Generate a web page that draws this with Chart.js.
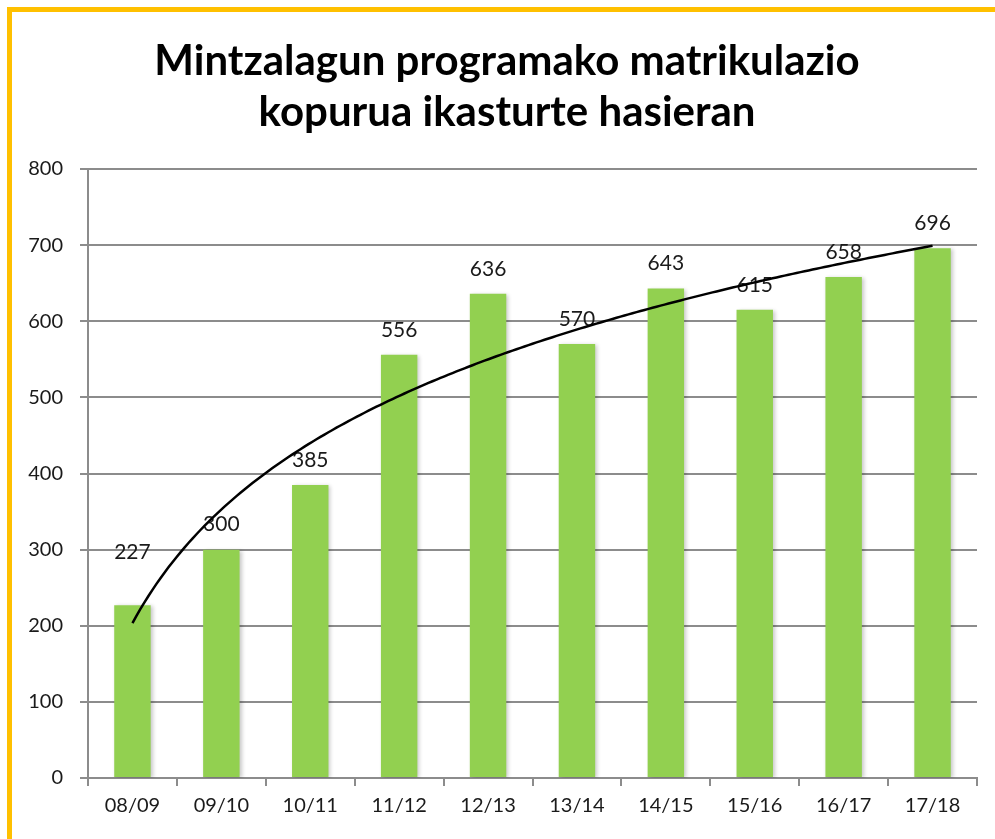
<!DOCTYPE html>
<html>
<head>
<meta charset="utf-8">
<script src="https://cdn.jsdelivr.net/npm/chart.js@4/dist/chart.umd.min.js"></script>
<style>
  html, body { margin: 0; padding: 0; background: #fff; }
  #frame { position: absolute; left: 7px; top: 7px; width: 988px; height: 832px;
           border-left: 5px solid #FFC000; border-top: 5px solid #FFC000; box-sizing: border-box; }
  #wrap { position: absolute; left: 12px; top: 12px; width: 983px; height: 827px; }
</style>
</head>
<body>
<div id="frame"></div>
<div id="wrap"><canvas id="c"></canvas></div>
<script>
const titleLines = ['Mintzalagun programako matrikulazio', 'kopurua ikasturte hasieran'];
const categories = ['08/09', '09/10', '10/11', '11/12', '12/13', '13/14', '14/15', '15/16', '16/17', '17/18'];
const enrolments = [227, 300, 385, 556, 636, 570, 643, 615, 658, 696];
const yTicks = [0, 100, 200, 300, 400, 500, 600, 700, 800];

const FONT = 'Lato, "Open Sans", "DejaVu Sans", sans-serif';
const GRID = '#8c8c8c';

// Logarithmic least-squares trendline (as Excel), y = a + b ln(x), x = 1..n
function logFit(vals) {
  const n = vals.length;
  const xs = vals.map((_, i) => Math.log(i + 1));
  const mx = xs.reduce((s, v) => s + v, 0) / n;
  const my = vals.reduce((s, v) => s + v, 0) / n;
  let sxy = 0, sxx = 0;
  for (let i = 0; i < n; i++) { sxy += (xs[i] - mx) * (vals[i] - my); sxx += (xs[i] - mx) ** 2; }
  const b = sxy / sxx;
  return { a: my - b * mx, b };
}

const titleShift = {
  id: 'titleShift',
  afterLayout(chart) {
    if (chart.titleBlock) { chart.titleBlock.left += 25; }
  }
};

const barShadow = {
  id: 'barShadow',
  beforeDatasetDraw(chart) {
    const ctx = chart.ctx;
    ctx.save();
    ctx.shadowColor = 'rgba(0,0,0,0.22)';
    ctx.shadowBlur = 4;
    ctx.shadowOffsetX = 2;
    ctx.shadowOffsetY = 1;
  },
  afterDatasetDraw(chart) { chart.ctx.restore(); }
};

const labelsAndTrend = {
  id: 'labelsAndTrend',
  afterDatasetsDraw(chart) {
    const ctx = chart.ctx;
    const meta = chart.getDatasetMeta(0);
    const ys = chart.scales.y, xs = chart.scales.x;
    // data labels
    ctx.save();
    ctx.font = '21px ' + FONT;
    ctx.fillStyle = '#1a1a1a';
    ctx.textAlign = 'center';
    ctx.textBaseline = 'middle';
    const extra = { 0: 28 };
    meta.data.forEach((bar, i) => {
      ctx.fillText(String(enrolments[i]), bar.x, bar.y - 25 - (extra[i] || 0));
    });
    ctx.restore();
    // trendline
    const { a, b } = logFit(enrolments);
    ctx.save();
    ctx.beginPath();
    const n = enrolments.length;
    const steps = 200;
    for (let k = 0; k <= steps; k++) {
      const xv = 1 + (n - 1) * k / steps;
      const px = xs.getPixelForValue(xv - 1);
      const py = ys.getPixelForValue(a + b * Math.log(xv));
      if (k === 0) ctx.moveTo(px, py); else ctx.lineTo(px, py);
    }
    ctx.strokeStyle = '#000';
    ctx.lineWidth = 2.5;
    ctx.lineJoin = 'round';
    ctx.stroke();
    ctx.restore();
  }
};

new Chart(document.getElementById('c'), {
  type: 'bar',
  data: {
    labels: categories,
    datasets: [{
      data: enrolments,
      backgroundColor: '#92D050',
      borderWidth: 0,
      barPercentage: 0.41,
      categoryPercentage: 1.0
    }]
  },
  options: {
    responsive: true,
    maintainAspectRatio: false,
    animation: false,
    layout: { padding: { left: 0, right: 18, top: 0, bottom: 0 } },
    plugins: {
      legend: { display: false },
      tooltip: { enabled: false },
      title: {
        display: true,
        text: titleLines,
        color: '#000',
        font: { family: FONT, size: 42, weight: 'bold', lineHeight: '51px' },
        padding: { top: 24, bottom: 31 }
      }
    },
    scales: {
      x: {
        offset: true,
        grid: { offset: true, drawOnChartArea: false, drawTicks: true, tickLength: 8, color: GRID, lineWidth: 2 },
        border: { display: true, color: GRID, width: 2 },
        ticks: { color: '#1a1a1a', font: { family: FONT, size: 20 }, padding: 8, maxRotation: 0 },
        afterFit(s) { s.height = 61; }
      },
      y: {
        min: 0, max: 800,
        afterBuildTicks(s) { s.ticks = yTicks.map(v => ({ value: v })); },
        grid: { color: GRID, lineWidth: 2, tickLength: 8, drawTicks: true },
        border: { display: true, color: GRID, width: 2 },
        ticks: { color: '#1a1a1a', font: { family: FONT, size: 20 }, padding: 17 },
        afterFit(s) { s.width = 76; }
      }
    }
  },
  plugins: [titleShift, barShadow, labelsAndTrend]
});
</script>
</body>
</html>
